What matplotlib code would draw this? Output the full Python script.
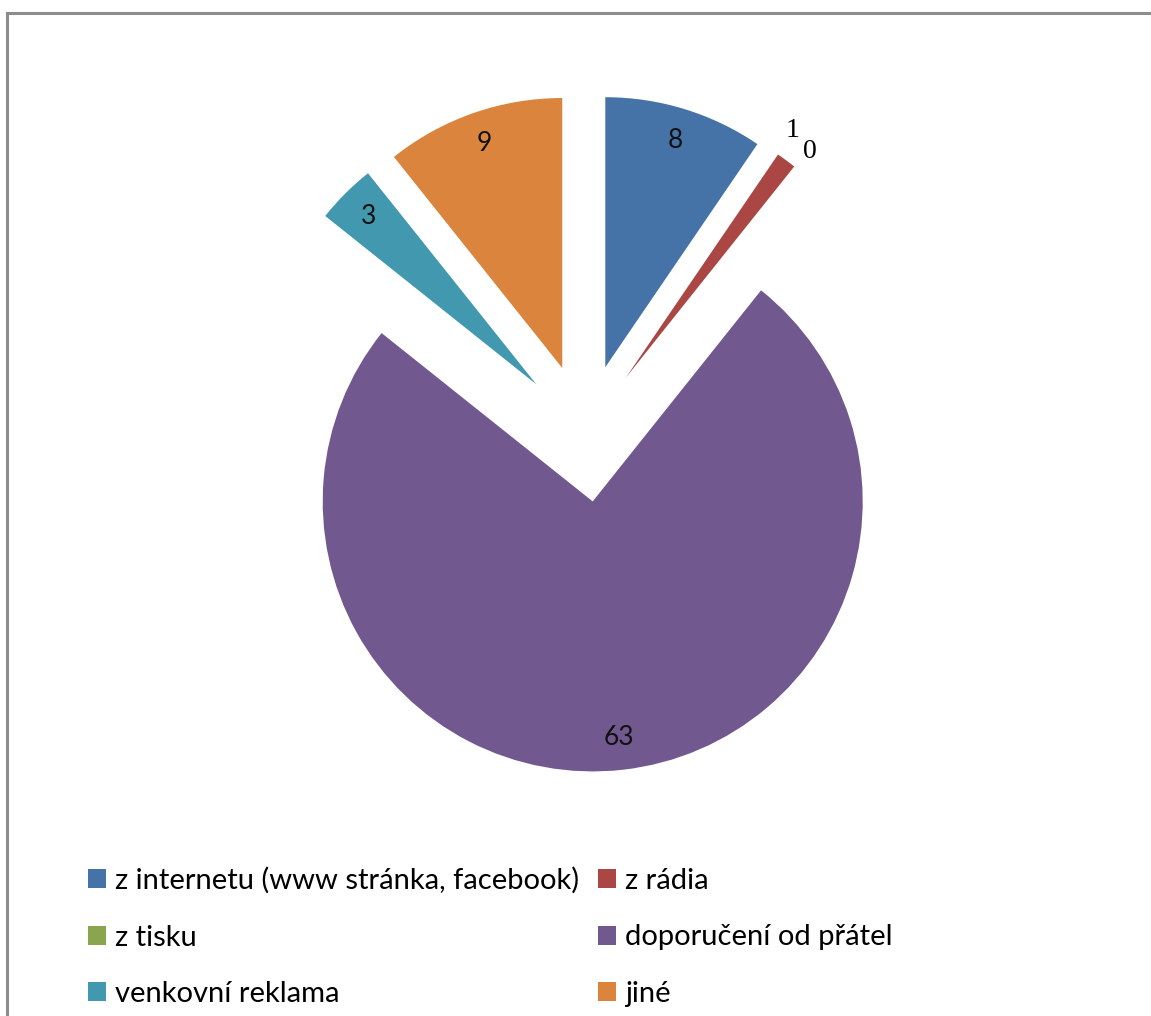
import numpy as np
import matplotlib.pyplot as plt
from matplotlib.lines import Line2D
from matplotlib.patches import Patch

# ---------- Data ----------
categories = ['z internetu (www stránka, facebook)', 'z rádia', 'z tisku',
              'doporučení od přátel', 'venkovní reklama', 'jiné']
values = [8, 1, 0, 63, 3, 9]
colors = ['#4572A7', '#AA4643', '#89A54E', '#71588F', '#4198AF', '#DB843D']

total = sum(values)
W, H = 1151, 1016
cx, cy, R = 585, 433, 270  # pie centre and radius in pixels (from top-left)

fig = plt.figure(figsize=(W / 100, H / 100), dpi=100)
ax = fig.add_axes([0, 0, 1, 1])

wedges, texts, autotexts = ax.pie(
    values, colors=colors, startangle=90, counterclock=False,
    explode=[0.255] * len(values), radius=1.0,
    autopct=lambda p: '%d' % round(p * total / 100.0), pctdistance=0.88,
    wedgeprops=dict(linewidth=0),
    textprops=dict(fontsize=19, family='Lato', color='#111111'))

# tiny slices get their labels outside, in a serif face
for w, t, v in zip(wedges, autotexts, values):
    if v <= 1:
        ang = np.deg2rad((w.theta1 + w.theta2) / 2.0)
        x0, y0 = w.center
        t.set_position((x0 + 1.08 * np.cos(ang), y0 + 1.08 * np.sin(ang)))
        t.set_family('Liberation Serif')
        t.set_fontsize(20)
        t.set_color('black')
        if v > 0:
            # nudge up-left so it does not sit on the zero label
            t.set_ha('right')
            t.set_va('bottom')

ax.set_aspect('equal')
ax.set_xlim(-cx / R, (W - cx) / R)
ax.set_ylim(-(H - cy) / R, cy / R)
ax.axis('off')

# ---------- Frame (left and top edges of the chart area) ----------
fig.add_artist(Line2D([6.5 / W, 6.5 / W], [0, 1 - 12.5 / H],
                      transform=fig.transFigure, color='#8c8c8c', lw=2.2))
fig.add_artist(Line2D([6.5 / W, 1], [1 - 12.5 / H, 1 - 12.5 / H],
                      transform=fig.transFigure, color='#8c8c8c', lw=2.2))

# ---------- Legend: row-wise order in two columns ----------
order = [0, 2, 4, 1, 3, 5]
handles = [Patch(facecolor=colors[i], edgecolor='none') for i in order]
labels = [categories[i] for i in order]
fig.legend(handles, labels, ncol=2, loc='upper left',
           bbox_to_anchor=(88 / W, 1 - 867 / H), frameon=False,
           borderpad=0, borderaxespad=0,
           handlelength=0.62, handleheight=0.62, handletextpad=0.3,
           labelspacing=1.05, columnspacing=0.65,
           prop=dict(family='Lato', size=21))

fig.savefig('out.png', dpi=100)
